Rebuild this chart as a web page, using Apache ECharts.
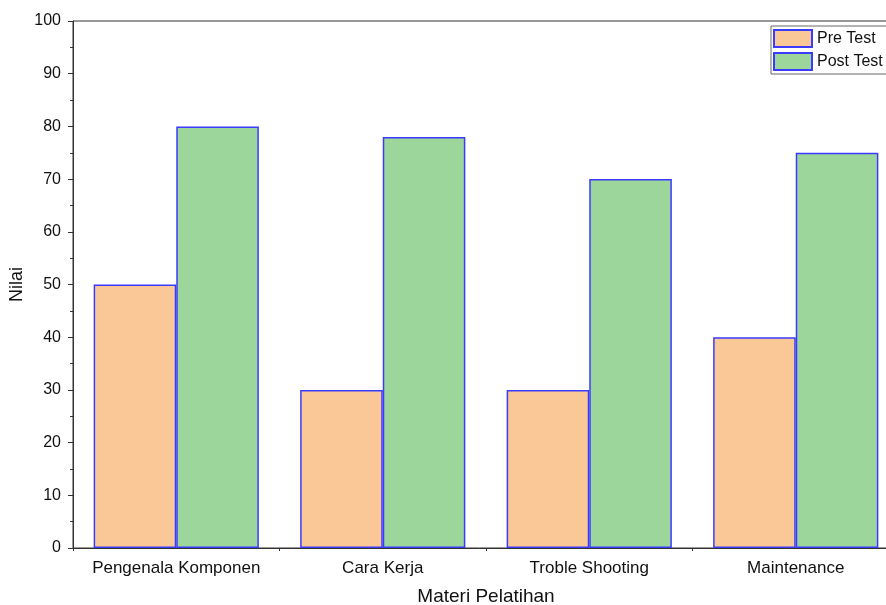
<!DOCTYPE html>
<html>
<head>
<meta charset="utf-8">
<script src="https://cdn.jsdelivr.net/npm/echarts@6/dist/echarts.min.js"></script>
<style>html,body{margin:0;padding:0;background:#fff;overflow:hidden;}#c{width:886px;height:605px;}</style>
</head>
<body>
<div id="c"></div>
<script>
var categories = ['Pengenala Komponen', 'Cara Kerja', 'Troble Shooting', 'Maintenance'];
var preTest = [50, 30, 30, 40];
var postTest = [80, 78, 70, 75];
var yTicks = [0, 10, 20, 30, 40, 50, 60, 70, 80, 90, 100];

var chart = echarts.init(document.getElementById('c'));
var font = 'Liberation Sans, Arial, sans-serif';
chart.setOption({
  animation: false,
  textStyle: { fontFamily: font },
  grid: { left: 73, top: 21, width: 826, height: 527, outerBoundsMode: 'none', containLabel: false,
    show: true, borderColor: '#333', borderWidth: 1, backgroundColor: 'transparent' },
  legend: {
    left: 771, top: 26, orient: 'vertical', icon: 'rect',
    itemWidth: 38, itemHeight: 17, itemGap: 4,
    padding: [3, 40, 3, 2],
    borderColor: '#666', borderWidth: 1,
    textStyle: { fontSize: 16, color: '#111', fontFamily: font },
    data: ['Pre Test', 'Post Test']
  },
  xAxis: [{
    type: 'category', data: categories,
    name: 'Materi Pelatihan', nameLocation: 'middle', nameGap: 39,
    nameTextStyle: { fontSize: 19, color: '#111', fontFamily: font },
    axisLine: { lineStyle: { color: '#333', width: 1 } },
    axisTick: { alignWithLabel: true, length: 5, lineStyle: { color: '#333' } },
    axisLabel: { interval: 0, fontSize: 17, color: '#111', margin: 12, fontFamily: font }
  }, {
    type: 'category', data: categories, position: 'bottom',
    axisLine: { show: false },
    axisTick: { show: true, interval: 0, length: 3, lineStyle: { color: '#333' } },
    axisLabel: { show: false }
  }],
  yAxis: {
    type: 'value', min: 0, max: 100, interval: 10,
    name: 'Nilai', nameLocation: 'middle', nameGap: 47, nameMoveOverlap: false,
    nameTextStyle: { fontSize: 18, color: '#111', fontFamily: font },
    axisLine: { show: true, lineStyle: { color: '#333', width: 1 } },
    axisTick: { show: true, length: 5, lineStyle: { color: '#333' } },
    minorTick: { show: true, splitNumber: 2, length: 3, lineStyle: { color: '#333' } },
    splitLine: { show: false },
    axisLabel: { fontSize: 16, color: '#111', margin: 12, fontFamily: font,
      formatter: function (v) { return yTicks.indexOf(v) >= 0 ? String(v) : ''; } }
  },
  series: [{
    name: 'Pre Test', type: 'bar', data: preTest, xAxisIndex: 0,
    barGap: '0%', barCategoryGap: '20%',
    itemStyle: { color: '#F9C896', borderColor: '#3b3bff', borderWidth: 1.5 }
  }, {
    name: 'Post Test', type: 'bar', data: postTest, xAxisIndex: 0,
    barGap: '0%', barCategoryGap: '20%',
    itemStyle: { color: '#9DD69A', borderColor: '#3b3bff', borderWidth: 1.5 }
  }]
});
</script>
</body>
</html>
